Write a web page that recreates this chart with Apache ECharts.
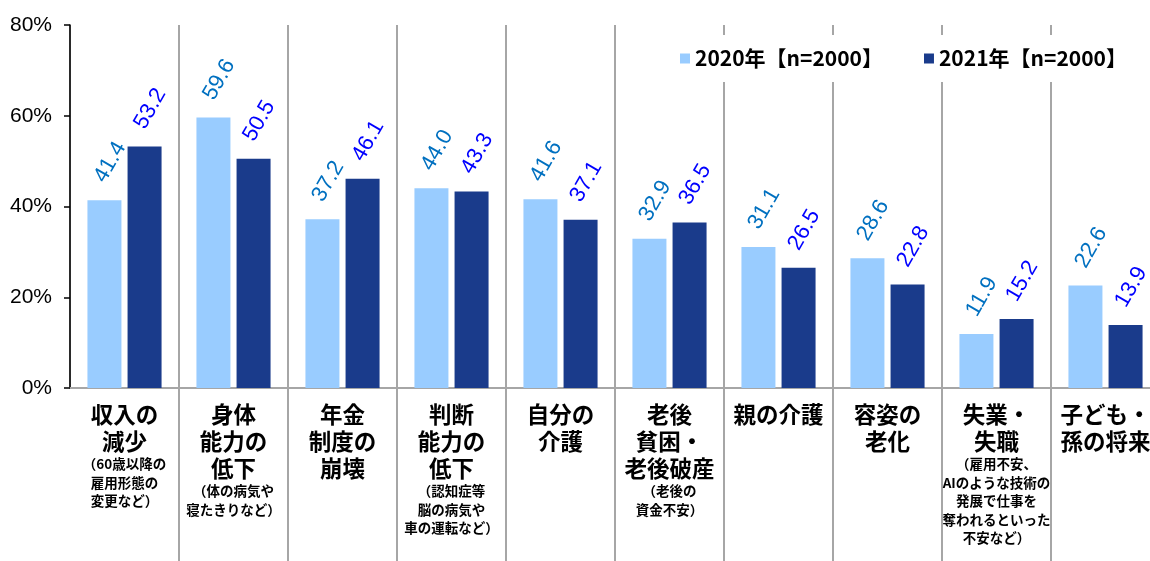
<!DOCTYPE html>
<html>
<head>
<meta charset="utf-8">
<script src="https://cdn.jsdelivr.net/npm/echarts@6/dist/echarts.min.js"></script>
<style>
  html, body { margin: 0; padding: 0; background: #fff; }
  #chart { width: 1150px; height: 561px; }
</style>
</head>
<body>
<div id="chart"></div>
<script>
// Worry categories: main heading lines and small explanatory lines
const categoryMain = [
  ['収入の', '減少'],
  ['身体', '能力の', '低下'],
  ['年金', '制度の', '崩壊'],
  ['判断', '能力の', '低下'],
  ['自分の', '介護'],
  ['老後', '貧困・', '老後破産'],
  ['親の介護'],
  ['容姿の', '老化'],
  ['失業・', '失職'],
  ['子ども・', '孫の将来']
];
const categoryNote = [
  ['（60歳以降の', '雇用形態の', '変更など）'],
  ['（体の病気や', '寝たきりなど）'],
  [],
  ['（認知症等', '脳の病気や', '車の運転など）'],
  [],
  ['（老後の', '資金不安）'],
  [],
  [],
  ['（雇用不安、', 'AIのような技術の', '発展で仕事を', '奪われるといった', '不安など）'],
  []
];
const seriesNames = ['2020年【n=2000】', '2021年【n=2000】'];
const values2020 = [41.4, 59.6, 37.2, 44.0, 41.6, 32.9, 31.1, 28.6, 11.9, 22.6];
const values2021 = [53.2, 50.5, 46.1, 43.3, 37.1, 36.5, 26.5, 22.8, 15.2, 13.9];
const yTicks = [0, 20, 40, 60, 80];

const categories = categoryMain.map((m, i) => {
  const parts = m.map(t => '{m|' + t + '}');
  categoryNote[i].forEach(t => parts.push('{s|' + t + '}'));
  return parts.join('\n');
});

const JP = '"Noto Sans CJK JP", "Noto Sans", sans-serif';
const SEP = '#a6a6a6';

function valueLabel(color) {
  return {
    show: true,
    position: 'top',
    distance: 28,
    offset: [-10, 0],
    rotate: 60,
    align: 'left',
    verticalAlign: 'middle',
    color: color,
    fontFamily: '"Liberation Sans", Arial, sans-serif',
    fontSize: 22,
    formatter: p => p.value.toFixed(1)
  };
}

const chart = echarts.init(document.getElementById('chart'), null, { renderer: 'canvas' });
chart.setOption({
  animation: false,
  backgroundColor: '#fff',
  grid: {
    left: 70, width: 1090, top: 25, bottom: 173,
    containLabel: false,
    outerBoundsMode: 'none'
  },
  legend: {
    data: seriesNames,
    left: 668,
    top: 35,
    padding: [13, 12],
    backgroundColor: '#fff',
    itemWidth: 10,
    itemHeight: 10,
    itemGap: 41,
    icon: 'rect',
    textStyle: { fontFamily: JP, fontSize: 21, fontWeight: 'bold', color: '#000' }
  },
  xAxis: {
    type: 'category',
    data: categories,
    boundaryGap: true,
    axisLine: { show: true, lineStyle: { color: SEP, width: 2 } },
    axisTick: {
      show: true,
      length: 175,
      interval: (i) => i > 0,
      lineStyle: { color: SEP, width: 2 }
    },
    splitLine: { show: true, interval: 0, lineStyle: { color: SEP, width: 2 } },
    axisLabel: {
      interval: 0,
      margin: 13,
      verticalAlign: 'top',
      rich: {
        m: { fontFamily: JP, fontSize: 22.5, fontWeight: 'bold', lineHeight: 27, color: '#000' },
        s: { fontFamily: JP, fontSize: 13.5, fontWeight: 'bold', lineHeight: 18.5, color: '#000' }
      }
    }
  },
  yAxis: {
    type: 'value',
    min: yTicks[0],
    max: yTicks[yTicks.length - 1],
    interval: 20,
    axisLine: { show: true, lineStyle: { color: '#000', width: 1.5 } },
    axisTick: { show: true, length: 6, lineStyle: { color: '#000', width: 1.5 } },
    splitLine: { show: false },
    axisLabel: {
      margin: 18,
      color: '#000',
      fontFamily: '"Liberation Sans", Arial, sans-serif',
      fontSize: 21,
      formatter: '{value}%'
    }
  },
  series: [
    {
      name: seriesNames[0],
      type: 'bar',
      data: values2020,
      barWidth: 34,
      barGap: '18%',
      itemStyle: { color: '#99ccff' },
      label: valueLabel('#0070c0')
    },
    {
      name: seriesNames[1],
      type: 'bar',
      data: values2021,
      barWidth: 34,
      barGap: '18%',
      itemStyle: { color: '#1a3b8b' },
      label: valueLabel('#0000ff')
    }
  ]
});
</script>
</body>
</html>
